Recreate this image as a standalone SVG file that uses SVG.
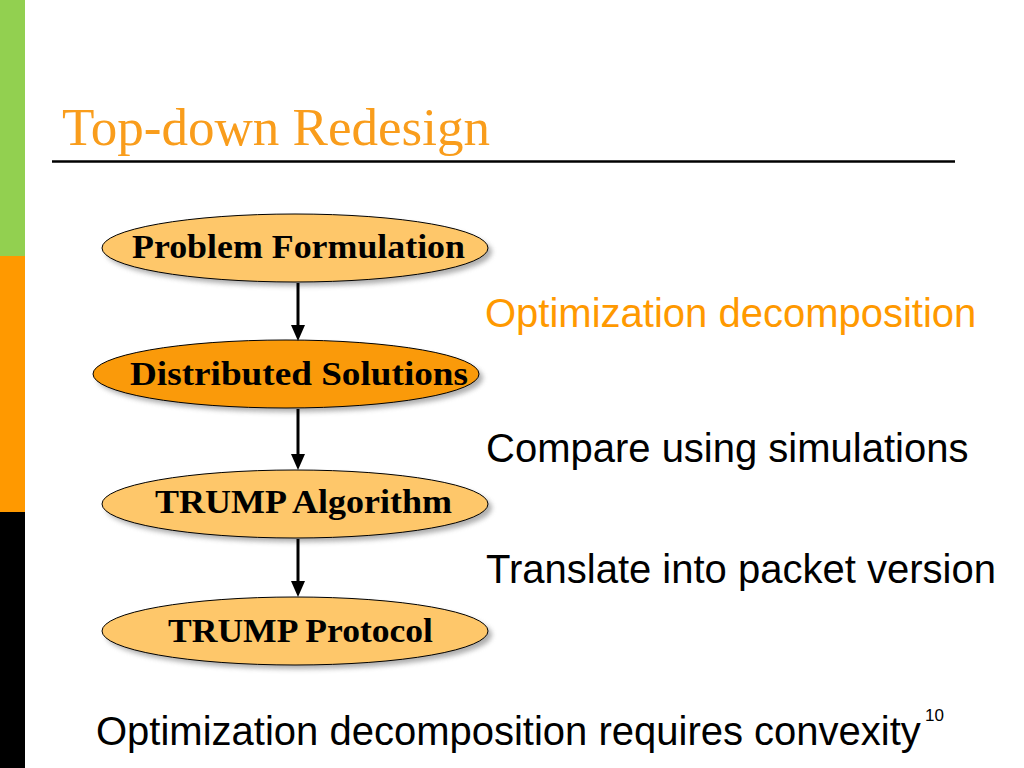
<svg xmlns="http://www.w3.org/2000/svg" width="1024" height="768" viewBox="0 0 1024 768">
<defs>
<style>
.node{stroke:#000;stroke-width:1}
.light{fill:#FEC76A}
.dark{fill:#FA9A0A}
.shadow{fill:#777;opacity:0.6;filter:url(#blur)}
.nt{font-family:"Liberation Serif",serif;font-weight:bold;font-size:33px;fill:#000}
.body{font-family:"Liberation Sans",Arial,sans-serif;font-size:40px;fill:#000}
.conn{stroke:#000;stroke-width:3;fill:none}
.head{fill:#000}
</style>
<filter id="blur" x="-10%" y="-30%" width="120%" height="160%"><feGaussianBlur stdDeviation="2.5"/></filter>
</defs>
<rect width="1024" height="768" fill="#fff"/>
<rect x="0" y="0" width="25" height="256" fill="#92D050"/>
<rect x="0" y="256" width="25" height="256" fill="#FF9900"/>
<rect x="0" y="512" width="25" height="256" fill="#000"/>
<text x="62" y="145" font-family="Liberation Serif,serif" font-size="52" fill="#F99D1C" textLength="428" lengthAdjust="spacingAndGlyphs">Top-down Redesign</text>
<line x1="52" y1="161.5" x2="955" y2="161.5" stroke="#000" stroke-width="2.5"/>
<g id="n1">
<ellipse class="shadow" cx="299" cy="252" rx="193" ry="34"/>
<ellipse class="node light" cx="295" cy="248" rx="193" ry="34"/>
<text class="nt" x="132" y="258" textLength="333" lengthAdjust="spacingAndGlyphs">Problem Formulation</text>
</g>
<g id="n2">
<ellipse class="shadow" cx="290" cy="378" rx="193" ry="34"/>
<ellipse class="node dark" cx="286" cy="374" rx="193" ry="34"/>
<text class="nt" x="130" y="385" textLength="338" lengthAdjust="spacingAndGlyphs">Distributed Solutions</text>
</g>
<g id="n3">
<ellipse class="shadow" cx="299" cy="508" rx="193" ry="34"/>
<ellipse class="node light" cx="295" cy="504" rx="193" ry="34"/>
<text class="nt" x="155" y="513" textLength="297" lengthAdjust="spacingAndGlyphs">TRUMP Algorithm</text>
</g>
<g id="n4">
<ellipse class="shadow" cx="299" cy="635" rx="193" ry="34"/>
<ellipse class="node light" cx="295" cy="631" rx="193" ry="34"/>
<text class="nt" x="168" y="642" textLength="265" lengthAdjust="spacingAndGlyphs">TRUMP Protocol</text>
</g>
<g id="connectors">
<line class="conn" x1="298" y1="283" x2="298" y2="326"/>
<path class="head" d="M291,325 L305,325 L298,341 Z"/>
<line class="conn" x1="298" y1="409" x2="298" y2="455"/>
<path class="head" d="M291,454 L305,454 L298,470 Z"/>
<line class="conn" x1="298" y1="539" x2="298" y2="582"/>
<path class="head" d="M291,581 L305,581 L298,597 Z"/>
</g>
<text class="body" x="485" y="327" style="fill:#FF9900">Optimization decomposition</text>
<text class="body" x="486" y="462">Compare using simulations</text>
<text class="body" x="486" y="583">Translate into packet version</text>
<text class="body" x="96" y="745">Optimization decomposition requires convexity</text>
<text x="925" y="721" font-family="Liberation Sans,Arial,sans-serif" font-size="17" fill="#000">10</text>
</svg>
